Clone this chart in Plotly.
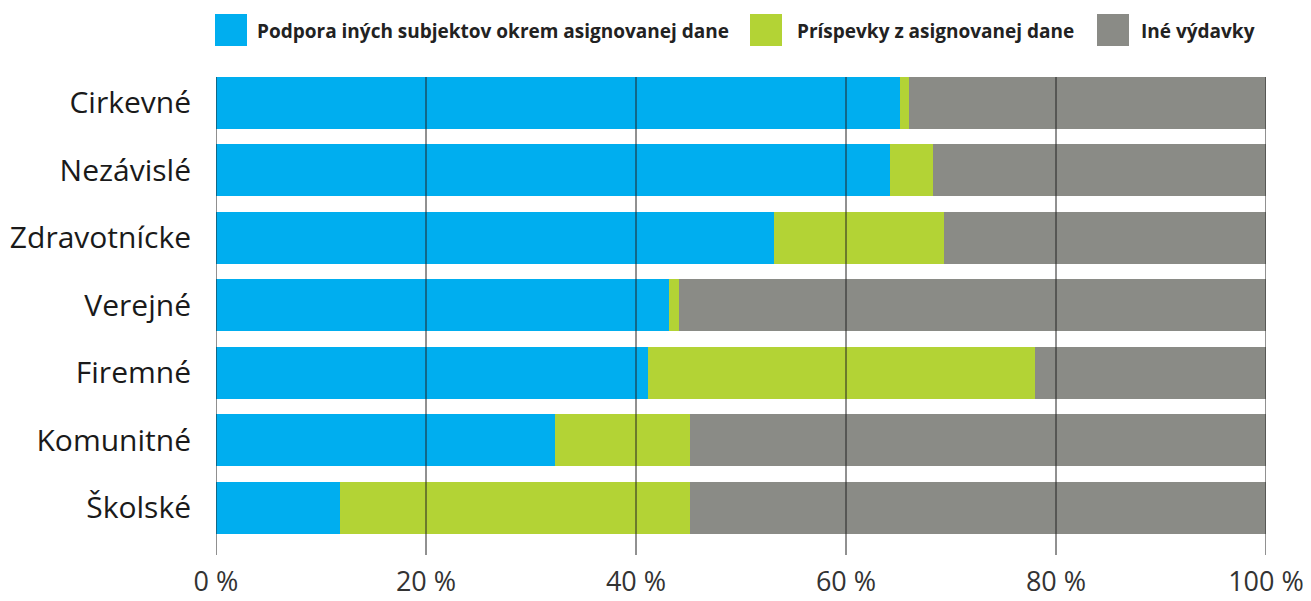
import plotly.graph_objects as go

categories = ['Cirkevné', 'Nezávislé', 'Zdravotnícke', 'Verejné', 'Firemné', 'Komunitné', 'Školské']
podpora = [65.1, 64.2, 53.1, 43.1, 41.1, 32.3, 11.8]
prispevky = [0.9, 4.1, 16.2, 1.0, 36.9, 12.8, 33.3]
ine = [round(100 - a - b, 1) for a, b in zip(podpora, prispevky)]

series_names = ['Podpora iných subjektov okrem asignovanej dane',
                'Príspevky z asignovanej dane',
                'Iné výdavky']
series_colors = ['#00AEEF', '#B3D335', '#8A8B86']
tick_vals = [0, 20, 40, 60, 80, 100]
tick_text = ['0 %', '20 %', '40 %', '60 %', '80 %', '100 %']

fig = go.Figure()
for name, vals, color in zip(series_names, [podpora, prispevky, ine], series_colors):
    fig.add_trace(go.Bar(
        y=categories, x=vals, name=name, orientation='h',
        marker=dict(color=color, line=dict(width=0)),
        showlegend=False,
    ))

# vertical grid lines drawn over the bars
for v in tick_vals:
    fig.add_shape(type='line', xref='x', yref='paper', x0=v, x1=v, y0=0, y1=1,
                  line=dict(color='#222222', width=1), layer='above')

# custom legend with big squares (pixel positions -> paper fractions)
legend_sq = [215, 750, 1097]
legend_txt = [257, 797, 1141]
for sq, tx, name, color in zip(legend_sq, legend_txt, series_names, series_colors):
    fig.add_shape(type='rect', xref='paper', yref='paper',
                  x0=(sq - 216) / 1050, x1=(sq + 32 - 216) / 1050,
                  y0=(555 - 46) / 478, y1=(555 - 14) / 478,
                  fillcolor=color, line=dict(width=0))
    fig.add_annotation(xref='paper', yref='paper', x=(tx - 216) / 1050,
                       y=(555 - 31) / 478, text='<b>' + name + '</b>', showarrow=False,
                       xanchor='left', yanchor='middle', xshift=-2,
                       font=dict(family='Open Sans', size=19, color='#222222'))

# page body has an 8px margin, so the figure is 8px smaller than the window
fig.update_layout(
    template='none',
    barmode='stack',
    bargap=0.23,
    width=1303, height=593,
    margin=dict(l=208, r=45, t=69, b=46),
    paper_bgcolor='white', plot_bgcolor='white',
    font=dict(family='Open Sans', color='#222222'),
    xaxis=dict(range=[0, 100], tickvals=tick_vals, ticktext=tick_text,
               showgrid=False, zeroline=False, showline=False,
               ticks='outside', ticklen=0, ticklabelstandoff=3,
               tickfont=dict(size=27, color='#333333'), automargin=False),
    yaxis=dict(categoryorder='array', categoryarray=categories,
               range=[6.70, -0.38], showgrid=False, zeroline=False, showline=False,
               ticks='outside', ticklen=0, ticklabelstandoff=18,
               tickfont=dict(size=30, color='#1a1a1a'), automargin=False),
)

fig.write_html('out.html')
